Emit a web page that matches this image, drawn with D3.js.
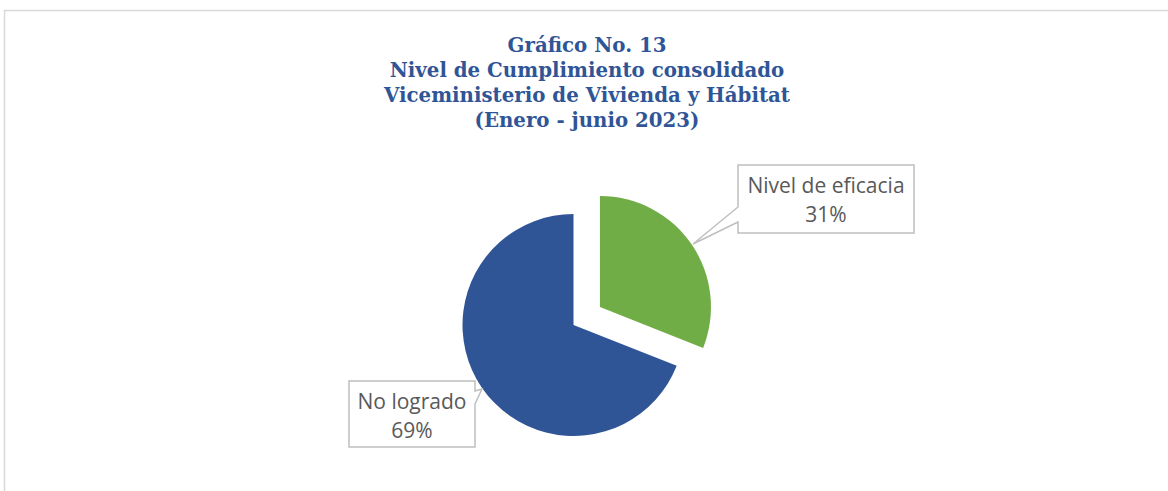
<!DOCTYPE html>
<html>
<head>
<meta charset="utf-8">
<script src="https://cdn.jsdelivr.net/npm/d3@7"></script>
<style>
  body { margin: 0; background: #fff; }
</style>
</head>
<body>
<svg id="chart" width="1168" height="491"></svg>
<script>
var titleLines = ["Gráfico No. 13", "Nivel de Cumplimiento consolidado", "Viceministerio de Vivienda y Hábitat", "(Enero - junio 2023)"]
var categories = ["Nivel de eficacia", "No logrado"]
var values = [31, 69]
var colors = ["#70AD47", "#2F5597"]

var svg = d3.select("#chart")

// frame of the chart area
svg.append("path")
  .attr("d", "M4.5,491 L4.5,10.5 L1168,10.5")
  .attr("fill", "none")
  .attr("stroke", "#d9d9d9")
  .attr("stroke-width", 1.5)

svg.selectAll(".title")
  .data(titleLines)
  .enter()
  .append("text")
  .attr("class", "title")
  .attr("x", 587)
  .attr("y", function(d, i){ return 52 + i*25; })
  .attr("text-anchor", "middle")
  .attr("font-family", "DejaVu Serif")
  .attr("font-weight", "bold")
  .attr("font-size", "19.8px")
  .style("fill", "#2F5597")
  .text(function(d){ return d; })

var r = 111
var cx = 573.5, cy = 325
var explode = 32

var pie = d3.pie().sort(null).value(function(d){ return d; })
var arcs = pie(values)
var arc = d3.arc().innerRadius(0).outerRadius(r)

var g = svg.append("g").attr("transform", "translate(" + cx + "," + cy + ")")

g.selectAll("path")
  .data(arcs)
  .enter()
  .append("path")
  .attr("d", arc)
  .attr("fill", function(d, i){ return colors[i]; })
  .attr("transform", function(d, i){
    if (i != 0) return null;
    var a = (d.startAngle + d.endAngle) / 2;
    return "translate(" + (Math.sin(a)*explode) + "," + (-Math.cos(a)*explode) + ")";
  })

// callout labels
var boxes = [
  {x: 738, y: 165, w: 176, h: 68, tip: [693, 244], side: "left", a: 207, b: 222},
  {x: 349, y: 381, w: 126, h: 66, tip: [482, 389], side: "right", a: 391, b: 404}
]

boxes.forEach(function(b, i){
  var x0 = b.x, y0 = b.y, x1 = b.x + b.w, y1 = b.y + b.h
  var p
  if (b.side == "left") {
    p = "M" + x0 + "," + y0 + " L" + x1 + "," + y0 + " L" + x1 + "," + y1 + " L" + x0 + "," + y1 +
        " L" + x0 + "," + b.b + " L" + b.tip[0] + "," + b.tip[1] + " L" + x0 + "," + b.a + " Z"
  } else {
    p = "M" + x0 + "," + y0 + " L" + x1 + "," + y0 + " L" + x1 + "," + b.a + " L" + b.tip[0] + "," + b.tip[1] +
        " L" + x1 + "," + b.b + " L" + x1 + "," + y1 + " L" + x0 + "," + y1 + " Z"
  }
  svg.append("path")
    .attr("d", p)
    .attr("fill", "#fff")
    .attr("stroke", "#bfbfbf")
    .attr("stroke-width", 1.5)

  var t = svg.append("text")
    .attr("text-anchor", "middle")
    .attr("font-family", "Open Sans")
    .attr("font-size", "21px")
    .style("fill", "#595959")
  t.append("tspan").attr("x", b.x + b.w/2).attr("y", b.y + 28).text(categories[i])
  t.append("tspan").attr("x", b.x + b.w/2).attr("y", b.y + 57).text(values[i] + "%")
})
</script>
</body>
</html>
